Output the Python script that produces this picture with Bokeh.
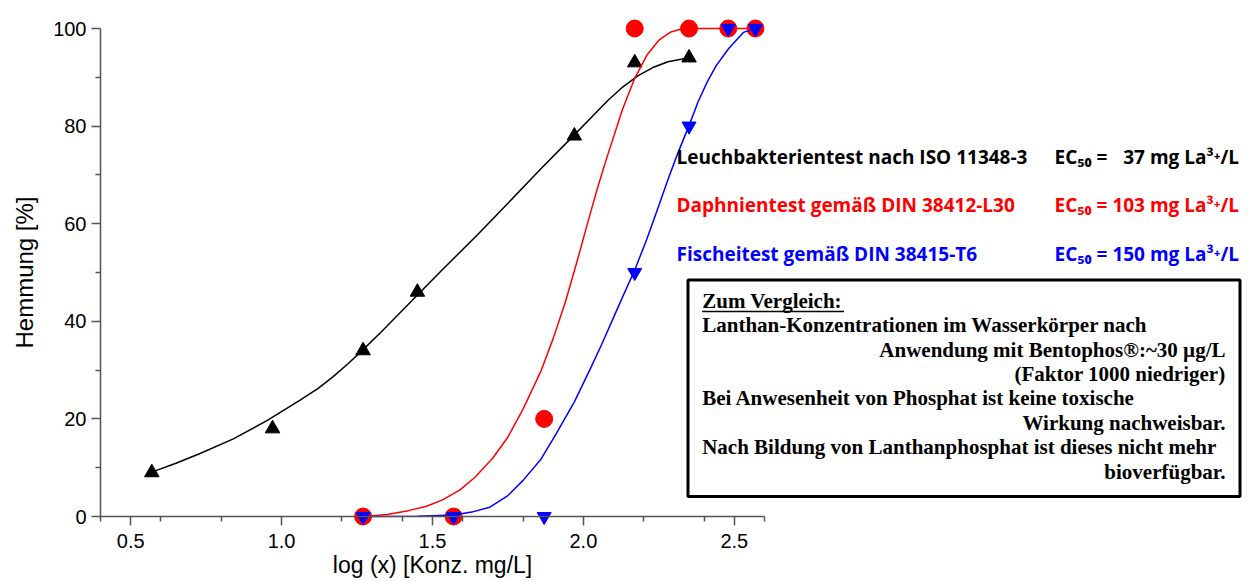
import math
from bokeh.plotting import figure
from bokeh.models import Range1d, FixedTicker, PrintfTickFormatter, Label, BoxAnnotation
from bokeh.embed import file_html
from bokeh.resources import INLINE

# ---------------- data ----------------
x_ticks = [0.5, 1.0, 1.5, 2.0, 2.5]
x_minor = [0.4, 0.6, 0.8, 1.2, 1.4, 1.6, 1.8, 2.2, 2.4, 2.6]
y_ticks = [0, 20, 40, 60, 80, 100]
y_minor = [10, 30, 50, 70, 90]

# Leuchtbakterien (black triangles)
black_x = [0.57, 0.97, 1.27, 1.45, 1.97, 2.17, 2.35]
black_y = [9, 18, 34, 46, 78, 93, 94]
# Daphnien (red circles)
red_x = [1.27, 1.57, 1.87, 2.17, 2.35, 2.48, 2.57]
red_y = [0, 0, 20, 100, 100, 100, 100]
# Fischei (blue inverted triangles)
blue_x = [1.27, 1.57, 1.87, 2.17, 2.35, 2.48, 2.57]
blue_y = [0, 0, 0, 50, 80, 100, 100]

# fitted curves, points
black_fit_x = [0.57, 0.65, 0.73, 0.84, 0.95, 1.06, 1.12, 1.17, 1.22, 1.27, 1.33, 1.39, 1.46, 1.53,
               1.65, 1.75, 1.86, 1.97, 2.03, 2.08, 2.13, 2.18, 2.23, 2.28, 2.35]
black_fit_y = [9.1, 10.9, 12.9, 15.9, 19.6, 23.8, 26.2, 28.6, 31.3, 34.2, 37.8, 41.6, 46.0, 50.4,
               57.8, 64.2, 71.3, 78.2, 82.0, 85.2, 88.0, 90.3, 92.0, 93.2, 94.0]
red_fit_x = [1.27, 1.35, 1.42, 1.48, 1.53, 1.59, 1.64, 1.70, 1.75, 1.80, 1.86, 1.90, 1.94,
             1.98, 2.02, 2.05, 2.08, 2.13, 2.17, 2.21, 2.25, 2.29, 2.33, 2.57]
red_fit_y = [0.0, 0.4, 1.2, 2.1, 3.3, 5.4, 8.0, 12.0, 16.3, 22.0, 29.9, 36.5, 43.9,
             52.5, 61.5, 68.0, 74.0, 83.5, 89.8, 94.5, 97.6, 99.3, 100.0, 100.0]
blue_fit_x = [1.27, 1.45, 1.57, 1.63, 1.69, 1.75, 1.80, 1.86, 1.91, 1.97, 2.02, 2.06, 2.10,
              2.13, 2.17, 2.21, 2.24, 2.28, 2.31, 2.35, 2.38, 2.41, 2.44, 2.48, 2.53, 2.57]
blue_fit_y = [0.0, 0.05, 0.3, 0.9, 1.9, 4.3, 7.4, 11.8, 17.0, 23.5, 29.9, 35.2, 40.8,
              45.0, 50.5, 56.8, 62.0, 69.0, 74.0, 80.1, 85.0, 89.0, 92.4, 95.8, 99.2, 100.0]

x_title = "log (x) [Konz. mg/L]"
y_title = "Hemmung [%]"

legend_names = ["Leuchbakterientest nach ISO 11348-3",
                "Daphnientest gemäß DIN 38412-L30",
                "Fischeitest gemäß DIN 38415-T6"]
legend_ec = ["EC\u2085\u2080 = \u200737 mg La\u00b3\u207a/L",
             "EC\u2085\u2080 = 103 mg La\u00b3\u207a/L",
             "EC\u2085\u2080 = 150 mg La\u00b3\u207a/L"]
legend_colors = ["black", "#FF0000", "#0000FF"]

box_lines = ["Zum Vergleich:",
             "Lanthan-Konzentrationen im Wasserkörper nach",
             "Anwendung mit Bentophos®:~30 µg/L",
             "(Faktor 1000 niedriger)",
             "Bei Anwesenheit von Phosphat ist keine toxische",
             "Wirkung nachweisbar.",
             "Nach Bildung von Lanthanphosphat ist dieses nicht mehr",
             "bioverfügbar."]
box_align = ["left", "left", "right", "right", "left", "right", "left", "right"]

# ---------------- layout helpers (canvas pixel -> data) ----------------
W, H = 1256, 581
AX_LEFT_PX = 100          # pixel of x = 0.4
PXX = 664 / 2.2           # pixels per x unit
Y_ZERO_PX = 516           # pixel of y = 0
PXY = 4.88                # pixels per y unit


def dx(px):
    return 0.4 + (px - AX_LEFT_PX) / PXX


def dy(py):
    return (Y_ZERO_PX - py) / PXY


def base(py, size):
    # label anchor so that the text baseline lands on pixel row py
    return dy(py - 0.33 * size)


p = figure(width=W, height=H,
           x_range=Range1d(dx(0), dx(W)), y_range=Range1d(dy(H), dy(0)),
           output_backend="svg", toolbar_location=None,
           min_border_left=0, min_border_right=0, min_border_top=0, min_border_bottom=0)
p.outline_line_color = None
p.grid.visible = False
p.background_fill_color = "white"
p.border_fill_color = "white"

axis_col = "#555555"
for ax in (p.xaxis[0], p.yaxis[0]):
    ax.axis_line_color = axis_col
    ax.axis_line_width = 1.5
    ax.major_tick_line_color = axis_col
    ax.minor_tick_line_color = axis_col
    ax.major_tick_line_width = 1.5
    ax.minor_tick_line_width = 1.5
    ax.major_tick_out = 9
    ax.major_tick_in = 0
    ax.minor_tick_out = 5
    ax.minor_tick_in = 0
    ax.major_label_text_font = "Liberation Sans"
    ax.major_label_text_font_size = "20px"
    ax.major_label_text_color = "black"

p.xaxis.ticker = FixedTicker(ticks=x_ticks, minor_ticks=x_minor)
p.xaxis.formatter = PrintfTickFormatter(format="%.1f")
p.xaxis.fixed_location = 0
p.xaxis.bounds = (0.4, 2.6)
p.xaxis.major_label_standoff = 8

p.yaxis.ticker = FixedTicker(ticks=y_ticks, minor_ticks=y_minor)
p.yaxis.fixed_location = 0.4
p.yaxis.bounds = (0, 100)
p.yaxis.major_label_standoff = 5

# curves and points
p.line(black_fit_x, black_fit_y, line_color="black", line_width=1.5)
p.scatter(black_x, black_y, marker="triangle", size=14.5, fill_color="black", line_color="black")
p.line(red_fit_x, red_fit_y, line_color="#FF0000", line_width=1.5)
p.scatter(red_x, red_y, marker="circle", size=17, fill_color="#FF0000", line_color="#FF0000")
p.line(blue_fit_x, blue_fit_y, line_color="#0000FF", line_width=1.5)
p.scatter(blue_x, blue_y, marker="inverted_triangle", size=14, fill_color="#0000FF", line_color="#0000FF")

# axis titles
p.add_layout(Label(x=(0.4 + 2.6) / 2, y=base(572, 23), text=x_title,
                   text_align="center", text_baseline="alphabetic",
                   text_font="Liberation Sans", text_font_size="23px", text_color="black"))
p.add_layout(Label(x=dx(24), y=(0 + 100) / 2, text=y_title, angle=math.pi / 2,
                   text_align="center", text_baseline="middle",
                   text_font="Liberation Sans", text_font_size="24px", text_color="black"))

# legend texts
row_base = [162.7, 210.7, 259.3]
for name, ec, col, yb in zip(legend_names, legend_ec, legend_colors, row_base):
    p.add_layout(Label(x=dx(676), y=base(yb, 19), text=name, text_align="left", text_baseline="alphabetic",
                       text_font="Open Sans", text_font_style="bold", text_font_size="19px", text_color=col))
    p.add_layout(Label(x=dx(1054), y=base(yb, 19), text=ec, text_align="left", text_baseline="alphabetic",
                       text_font="Open Sans", text_font_style="bold", text_font_size="19px", text_color=col))

# comparison box
p.add_layout(BoxAnnotation(left=dx(687.5), right=dx(1239.5), top=dy(279.5), bottom=dy(496),
                           fill_color="white", fill_alpha=1.0, line_color="black", line_alpha=1.0,
                           line_width=3))
for i, (txt, al) in enumerate(zip(box_lines, box_align)):
    xb = dx(701.7) if al == "left" else dx(1225)
    p.add_layout(Label(x=xb, y=base(307.3 + i * 24.4, 21), text=txt, text_align=al,
                       text_baseline="alphabetic",
                       text_font="Liberation Serif", text_font_style="bold", text_font_size="21px",
                       text_color="black"))
# underline of the heading
p.add_layout(BoxAnnotation(left=dx(701.7), right=dx(843.5), top=dy(310.3), bottom=dy(311.8),
                           fill_color="black", fill_alpha=1.0, line_color=None))

open("out.html", "w").write(file_html(p, INLINE))
